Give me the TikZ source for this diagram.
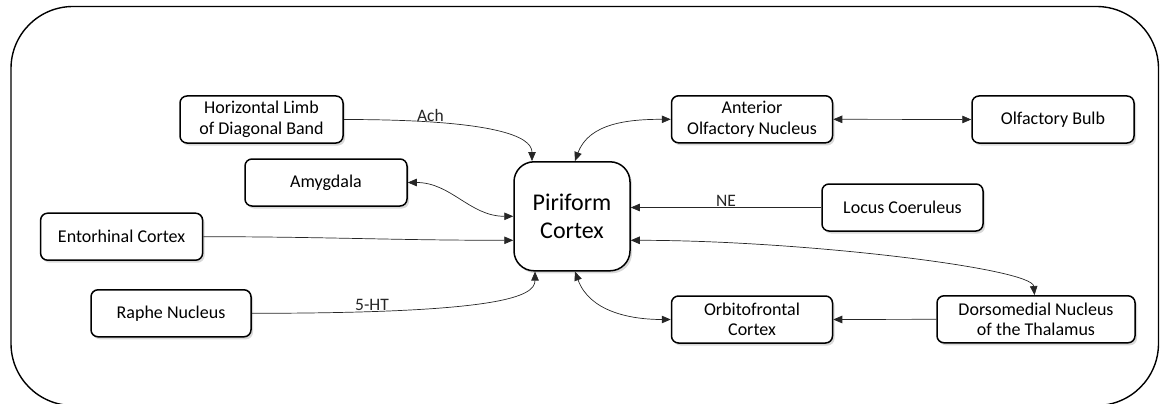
\documentclass[tikz,border=0pt]{standalone}
\usepackage{fontspec}
\setmainfont{Carlito}
\usetikzlibrary{arrows.meta,shadows}

\tikzset{
    area/.style={draw, line width=1.5pt, rounded corners=7pt, fill=white, align=center,
        minimum width=162pt, minimum height=47pt, inner sep=2pt,
        font=\fontsize{18}{20.5}\selectfont,
        drop shadow={shadow xshift=2pt, shadow yshift=-2.5pt, opacity=.3}},
    link/.style={line width=.7pt, black!85, -{Triangle[length=9pt,width=7.5pt]}},
    dlink/.style={link, {Triangle[length=9pt,width=7.5pt]}-{Triangle[length=9pt,width=7.5pt]}},
    tag/.style={font=\fontsize{17.5}{20}\selectfont, inner sep=0.5pt}
}

\begin{document}
\begin{tikzpicture}[x=1pt, y=1pt]
    \useasboundingbox (0,0) rectangle (1160,-404);
    % Outline
    \draw[line width=1.4pt, rounded corners=62pt] (11,-6.5) rectangle (1158.5,-405.5);
    % Regions
    \node[area, minimum width=116pt, minimum height=109pt, rounded corners=20pt,
        font=\fontsize{24}{28}\selectfont] (pir) at (572,-216.3) {Piriform\\Cortex};
    \node[area, minimum width=163pt] (hldb) at (261.5,-119.5) {Horizontal Limb\\of Diagonal Band};
    \node[area] (amy) at (326,-182.5) {Amygdala};
    \node[area] (ento) at (121.6,-236.7) {Entorhinal Cortex};
    \node[area, minimum width=160pt] (raphe) at (171,-313.3) {Raphe Nucleus};
    \node[area, minimum width=161pt] (aon) at (752,-119.3) {Anterior\\Olfactory Nucleus};
    \node[area] (ob) at (1053,-119.5) {Olfactory Bulb};
    \node[area, minimum width=161pt] (lc) at (902.5,-207.5) {Locus Coeruleus};
    \node[area, minimum width=161pt] (ofc) at (752,-319.5) {Orbitofrontal\\Cortex};
    \node[area, minimum width=198pt] (dm) at (1036,-319.3) {Dorsomedial Nucleus\\of the Thalamus};
    % Inputs from the left
    \draw[link] (hldb.east) to[out=0, in=90, out distance=150pt, in distance=25pt]
        node[tag, pos=.23, above] (ach) {Ach} ([xshift=-40pt]pir.north);
    \draw[dlink] (amy.east) to[out=0, in=180] (pir.west);
    \draw[link] (ento.east) to[out=0, in=180] ([yshift=-24pt]pir.west);
    \draw[link] (raphe.east) to[out=0, in=-90, out distance=250pt, in distance=25pt]
        node[tag, pos=.19, above] (ht) {5-HT} ([xshift=-37pt]pir.south);
    % Olfactory loop
    \draw[dlink] ([xshift=3pt]pir.north) to[out=70, in=180] (aon.west);
    \draw[dlink] (aon.east) -- (ob.west);
    % Inputs from the right
    \draw[link] (lc.west) -- node[tag, above] (ne) {NE} (lc.west -| pir.east);
    \draw[dlink] ([yshift=-24pt]pir.east) to[out=0, in=95, out distance=170pt, in distance=27pt] ([xshift=-1.5pt]dm.north);
    \draw[dlink] ([xshift=3pt]pir.south) to[out=-70, in=180] (ofc.west);
    \draw[link] (dm.west) -- (ofc.east);
\end{tikzpicture}
\end{document}
